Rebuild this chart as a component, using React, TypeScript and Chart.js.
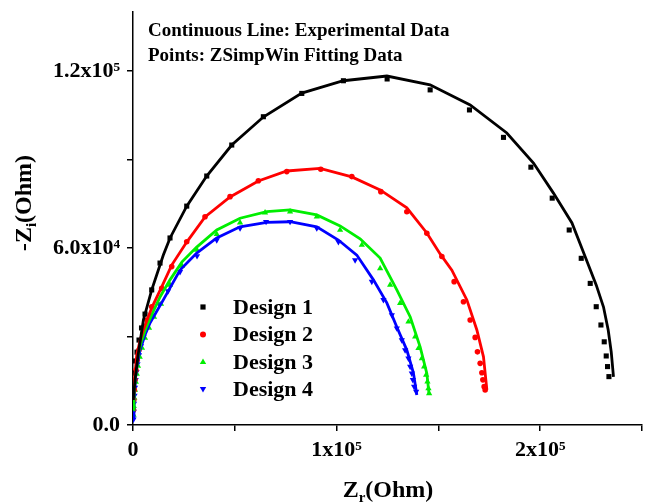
import React, { useEffect, useRef } from "react";
import { Chart, registerables } from "chart.js";

Chart.register(...registerables);

// ---------- Data (Ohm) ----------
// Design 1 – experimental (continuous line)
const expX1 = [150, 1000, 2500, 5100, 9200, 14900, 18200, 26400, 36200, 48500, 64000, 82900, 103300, 124700, 145900, 165600, 183600, 196700, 206500, 215600, 222100, 227500, 231100, 233400, 234900, 236000];
const expY1 = [8500, 15300, 23700, 35600, 45800, 57600, 63400, 74200, 84400, 94900, 104400, 112500, 116700, 118300, 115300, 108500, 99000, 88800, 78600, 68500, 57000, 47500, 40000, 32200, 24700, 16300];
// Design 1 – ZSimpWin fit (points)
const fitX1 = [150, 400, 740, 1230, 1970, 2950, 4180, 5900, 9190, 13270, 18180, 26390, 36220, 48500, 64030, 82900, 103340, 124820, 145950, 165260, 181970, 195430, 205900, 214250, 220150, 224570, 227520, 229830, 231450, 232430, 233070, 233760];
const fitY1 = [10200, 13900, 17600, 21700, 24700, 28800, 32900, 37600, 45800, 54900, 63400, 74200, 84400, 94900, 104500, 112400, 116700, 117300, 113600, 106800, 97500, 87400, 76900, 66100, 56500, 48000, 40100, 33900, 28200, 23400, 19800, 16400];

// Design 2
const expX2 = [150, 740, 1820, 3440, 5060, 9190, 14100, 19020, 26390, 35380, 47670, 61570, 75530, 91890, 107470, 121380, 134500, 144320, 150860, 156610, 163980, 168890, 172140, 173810];
const expY2 = [8500, 15300, 23700, 28500, 32200, 39700, 46800, 54200, 62000, 70500, 77300, 82700, 86100, 87000, 84100, 79700, 73600, 65100, 58000, 52500, 42400, 32200, 23100, 11900];
const fitX2 = [250, 390, 640, 980, 1470, 2110, 2950, 3930, 5060, 6880, 9190, 14100, 19020, 26390, 35380, 47670, 61570, 75530, 92240, 107470, 121720, 134500, 144320, 151700, 157740, 162310, 165600, 168060, 169190, 170520, 171350, 171840, 172480, 172970];
const fitY2 = [5100, 8500, 11900, 15300, 18600, 22000, 25400, 28500, 31200, 35600, 40100, 46300, 53700, 62100, 70600, 77400, 82800, 85900, 86700, 84200, 79100, 72300, 65000, 57100, 48600, 41800, 35600, 29700, 24800, 20900, 17700, 15300, 13000, 11900];

// Design 3
const expX3 = [150, 490, 980, 1720, 2700, 4180, 6390, 9340, 13270, 18180, 24080, 31300, 41130, 52580, 65700, 77150, 90270, 101720, 111550, 121380, 129580, 136120, 141030, 144320, 145450];
const expY3 = [5100, 10200, 15300, 20000, 24400, 28500, 32900, 37600, 43400, 49200, 55300, 60300, 66100, 70100, 72300, 72900, 71200, 67500, 63100, 56600, 45800, 36700, 26500, 17500, 10200];
const fitX3 = [250, 390, 640, 980, 1380, 1870, 2460, 3290, 4420, 5900, 7860, 10320, 13760, 18180, 24080, 31450, 41130, 52580, 64870, 77150, 90270, 101720, 112380, 121380, 126290, 131200, 135280, 138580, 140200, 141870, 143000, 143980, 144620, 145110, 145450];
const fitY3 = [3400, 6400, 9200, 11900, 14600, 17300, 20000, 23100, 26100, 29500, 32900, 36600, 41000, 47500, 53900, 59300, 64700, 68600, 72000, 72300, 70600, 66100, 61000, 53100, 47500, 41300, 35000, 29900, 26000, 22600, 19800, 17000, 14700, 12400, 10700];

// Design 4
const expX4 = [150, 490, 980, 1970, 3440, 5900, 8350, 14890, 23100, 31300, 41130, 52580, 65700, 77150, 90270, 100880, 109930, 118080, 124670, 129580, 134500, 137740, 139410];
const expY4 = [2400, 8500, 14200, 20300, 25400, 30500, 34600, 42400, 52500, 58300, 63400, 67200, 68700, 68900, 67200, 62700, 57600, 49200, 41400, 33200, 25400, 17600, 10200];
const fitX4 = [250, 340, 490, 740, 980, 1330, 1720, 2210, 2950, 3930, 5160, 6880, 9340, 12780, 17200, 23100, 31450, 41130, 52580, 65360, 77150, 90270, 100880, 109090, 117300, 123000, 127130, 129580, 132040, 133660, 135280, 136120, 136950, 137450, 138080, 139070];
const fitY4 = [1900, 4600, 7300, 10000, 12700, 15300, 18000, 20700, 23700, 26800, 29800, 33200, 37000, 41000, 45400, 51900, 57300, 62700, 66700, 68900, 68900, 66700, 62100, 55900, 48600, 42400, 37300, 32800, 28800, 25400, 22600, 19800, 17500, 15300, 13000, 11300];

const seriesNames = ["Design 1", "Design 2", "Design 3", "Design 4"];
const xTickValues = [0, 50000, 100000, 150000, 200000, 250000];
const xTickLabels = ["0", "", "1x10\u2075", "", "2x10\u2075", ""];
const yTickValues = [0, 30000, 60000, 90000, 120000];
const yTickLabels = ["0.0", "", "6.0x10\u2074", "", "1.2x10\u2075"];
const noteLines = ["Continuous Line: Experimental Data", "Points: ZSimpWin Fitting Data"];

const COLORS = ["#000000", "#ff0000", "#00ee00", "#0000ff"];
const FONT = '"Liberation Serif", "Times New Roman", serif';

const pts = (xs: number[], ys: number[]) => xs.map((x, i) => ({ x, y: ys[i] }));

function drawMarker(ctx: CanvasRenderingContext2D, kind: number, x: number, y: number, color: string) {
  ctx.save();
  ctx.fillStyle = color;
  ctx.beginPath();
  if (kind === 0) {
    ctx.rect(x - 2.6, y - 2.6, 5.2, 5.2);
  } else if (kind === 1) {
    ctx.arc(x, y, 3, 0, Math.PI * 2);
  } else if (kind === 2) {
    ctx.moveTo(x, y - 3.6);
    ctx.lineTo(x + 3.2, y + 2);
    ctx.lineTo(x - 3.2, y + 2);
    ctx.closePath();
  } else {
    ctx.moveTo(x, y + 3.6);
    ctx.lineTo(x + 3.2, y - 2);
    ctx.lineTo(x - 3.2, y - 2);
    ctx.closePath();
  }
  ctx.fill();
  ctx.restore();
}

function drawSubText(ctx: CanvasRenderingContext2D, parts: [string, boolean][], cx: number, baseY: number) {
  const big = `bold 24px ${FONT}`;
  const small = `bold 15px ${FONT}`;
  let total = 0;
  for (const [t, sub] of parts) {
    ctx.font = sub ? small : big;
    total += ctx.measureText(t).width;
  }
  let x = cx - total / 2;
  ctx.textAlign = "left";
  ctx.textBaseline = "alphabetic";
  for (const [t, sub] of parts) {
    ctx.font = sub ? small : big;
    ctx.fillText(t, x, baseY + (sub ? 5 : 0));
    x += ctx.measureText(t).width;
  }
}

const overlayPlugin = {
  id: "overlay",
  afterDraw(chart: any) {
    const ctx: CanvasRenderingContext2D = chart.ctx;
    ctx.save();
    ctx.fillStyle = "#000";
    // Note text
    ctx.font = `bold 19px ${FONT}`;
    ctx.textAlign = "left";
    ctx.textBaseline = "middle";
    ctx.fillText(noteLines[0], 148, 31);
    ctx.fillText(noteLines[1], 148, 56);
    // Legend
    const ly = [307, 334.5, 362, 389];
    seriesNames.forEach((name, i) => {
      drawMarker(ctx, i, 203, ly[i], COLORS[i]);
      ctx.fillStyle = "#000";
      ctx.font = `bold 22px ${FONT}`;
      ctx.textAlign = "left";
      ctx.textBaseline = "middle";
      ctx.fillText(name, 233, ly[i] + 1);
    });
    // X title
    ctx.fillStyle = "#000";
    drawSubText(ctx, [["Z", false], ["r", true], ["(Ohm)", false]], 388, 497);
    // Y title
    ctx.save();
    ctx.translate(31, 203);
    ctx.rotate(-Math.PI / 2);
    drawSubText(ctx, [["-Z", false], ["i", true], ["(Ohm)", false]], 0, 0);
    ctx.restore();
    ctx.restore();
  },
};

export default function App() {
  const ref = useRef<HTMLCanvasElement | null>(null);
  useEffect(() => {
    if (!ref.current) return;
    const expXs = [expX1, expX2, expX3, expX4];
    const expYs = [expY1, expY2, expY3, expY4];
    const fitXs = [fitX1, fitX2, fitX3, fitX4];
    const fitYs = [fitY1, fitY2, fitY3, fitY4];
    const styles = ["rect", "circle", "triangle", "triangle"];
    const datasets: any[] = [];
    for (let i = 0; i < 4; i++) {
      datasets.push({
        label: seriesNames[i] + " exp",
        data: pts(expXs[i], expYs[i]),
        showLine: true,
        borderColor: COLORS[i],
        borderWidth: 2.8,
        pointRadius: 0,
        tension: 0,
        order: 1,
      });
      datasets.push({
        label: seriesNames[i],
        data: pts(fitXs[i], fitYs[i]),
        showLine: false,
        pointStyle: styles[i],
        pointRotation: i === 3 ? 180 : 0,
        pointRadius: i === 0 ? 3.6 : i === 1 ? 2.8 : 3.6,
        pointBackgroundColor: COLORS[i],
        pointBorderColor: COLORS[i],
        pointBorderWidth: 0,
        order: 2,
      });
    }
    const tickFont = { family: FONT, size: 22, weight: "bold" as const };
    const chart = new Chart(ref.current, {
      type: "scatter",
      data: { datasets },
      plugins: [overlayPlugin],
      options: {
        animation: false,
        responsive: false,
        devicePixelRatio: 1,
        layout: { padding: { left: 0, top: 12, right: 4, bottom: 0 } },
        plugins: { legend: { display: false }, tooltip: { enabled: false } },
        scales: {
          x: {
            type: "linear",
            min: 0,
            max: 250000,
            afterBuildTicks: (s: any) => {
              s.ticks = xTickValues.map((v) => ({ value: v }));
            },
            afterFit: (s: any) => {
              s.height = 78;
              s.paddingLeft = 0;
              s.paddingRight = 0;
            },
            ticks: {
              color: "#000",
              font: tickFont,
              padding: 6,
              maxRotation: 0,
              autoSkip: false,
              callback: (v: any) => {
                const i = xTickValues.indexOf(Number(v));
                return i >= 0 ? xTickLabels[i] : "";
              },
            },
            grid: { drawOnChartArea: false, drawTicks: true, tickLength: 6, color: "#000", lineWidth: 1.5 },
            border: { display: true, color: "#000", width: 1.5 },
          },
          y: {
            type: "linear",
            min: 0,
            max: 140000,
            afterBuildTicks: (s: any) => {
              s.ticks = yTickValues.map((v) => ({ value: v }));
            },
            afterFit: (s: any) => {
              s.width = 133;
              s.paddingTop = 0;
              s.paddingBottom = 0;
            },
            ticks: {
              color: "#000",
              font: tickFont,
              padding: 7,
              autoSkip: false,
              callback: (v: any) => {
                const i = yTickValues.indexOf(Number(v));
                return i >= 0 ? yTickLabels[i] : "";
              },
            },
            grid: { drawOnChartArea: false, drawTicks: true, tickLength: 6, color: "#000", lineWidth: 1.5 },
            border: { display: true, color: "#000", width: 1.5 },
          },
        },
      },
    });
    return () => chart.destroy();
  }, []);
  return (
    <div style={{ position: "fixed", left: 0, top: 0, width: 646, height: 503, background: "#fff" }}>
      <canvas ref={ref} width={646} height={503} style={{ display: "block" }} />
    </div>
  );
}
